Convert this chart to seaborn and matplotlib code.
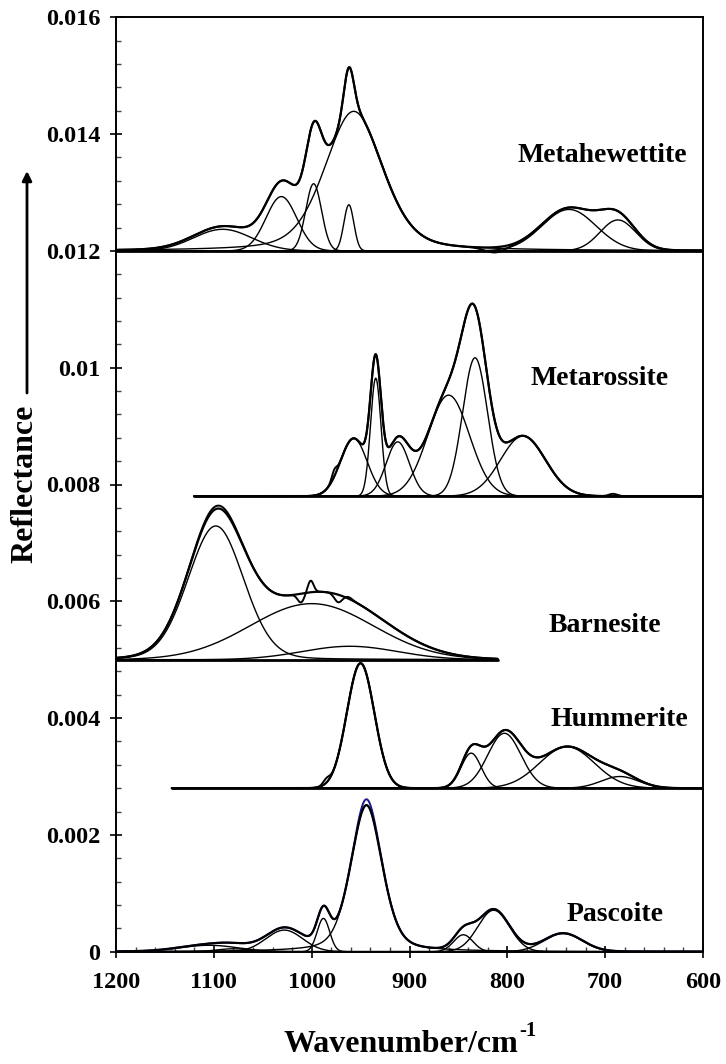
import numpy as np
import pandas as pd
import matplotlib
matplotlib.use("Agg")
import matplotlib.pyplot as plt
from matplotlib.ticker import MultipleLocator
import seaborn as sns

# ---------------- data ----------------
MINERALS = ["Metahewettite", "Metarossite", "Barnesite", "Hummerite", "Pascoite"]
OFFSETS = [0.012, 0.0078, 0.005, 0.0028, 0.0]
X_START = [1200, 1120, 1200, 1143, 1200]
X_END = [600, 600, 810, 600, 600]

# band parameters: centre (cm-1), height (x1e-3), FWHM (cm-1), Lorentz fraction
MHW_CENTER = [1091, 1031, 998, 962, 957, 737, 687]
MHW_HEIGHT = [0.37, 0.93, 1.15, 0.79, 2.39, 0.71, 0.53]
MHW_FWHM = [70, 37, 19, 12, 70, 65, 43]
MHW_ETA = [0, 0, 0, 0, 0.35, 0, 0]
MHW_RES_CENTER = [812]
MHW_RES_HEIGHT = [-0.09]
MHW_RES_FWHM = [25]

MRS_CENTER = [957, 934.5, 912, 860, 833, 784]
MRS_HEIGHT = [0.99, 2.02, 0.93, 1.73, 2.37, 1.03]
MRS_FWHM = [32, 12.6, 28, 50, 30, 54]
MRS_ETA = [0, 0, 0, 0, 0, 0]
MRS_RES_CENTER = [977, 692]
MRS_RES_HEIGHT = [0.12, 0.04]
MRS_RES_FWHM = [6, 10]

BRN_CENTER = [1098, 1000, 961]
BRN_HEIGHT = [2.29, 0.96, 0.23]
BRN_FWHM = [67, 148, 115]
BRN_ETA = [0.1, 0, 0]
BRN_RES_CENTER = [1095, 1011, 1001, 973, 962]
BRN_RES_HEIGHT = [0.05, -0.15, 0.2, -0.13, 0.03]
BRN_RES_FWHM = [40, 8, 7, 9, 8]

HUM_CENTER = [950, 837, 803, 739, 685]
HUM_HEIGHT = [2.14, 0.60, 0.94, 0.71, 0.20]
HUM_FWHM = [33, 24, 40, 66, 45]
HUM_ETA = [0, 0, 0, 0, 0]
HUM_RES_CENTER = [985]
HUM_RES_HEIGHT = [0.08]
HUM_RES_FWHM = [8]

PAS_CENTER = [1105, 1080, 1028, 988, 944, 845, 814, 743]
PAS_HEIGHT = [0.11, 0.05, 0.37, 0.57, 2.51, 0.29, 0.71, 0.31]
PAS_FWHM = [70, 40, 44, 15, 38, 23, 38, 46]
PAS_ETA = [0, 0, 0, 0, 0.35, 0, 0, 0]
PAS_RES_CENTER = [944]
PAS_RES_HEIGHT = [0.1]
PAS_RES_FWHM = [20]

X_TICKS = [1200, 1100, 1000, 900, 800, 700, 600]
X_TICK_LABELS = ["1200", "1100", "1000", "900", "800", "700", "600"]
Y_TICKS = [0, 0.002, 0.004, 0.006, 0.008, 0.01, 0.012, 0.014, 0.016]
Y_TICK_LABELS = ["0", "0.002", "0.004", "0.006", "0.008", "0.01", "0.012", "0.014", "0.016"]

BANDS = {
    "Metahewettite": (MHW_CENTER, MHW_HEIGHT, MHW_FWHM, MHW_ETA, MHW_RES_CENTER, MHW_RES_HEIGHT, MHW_RES_FWHM),
    "Metarossite": (MRS_CENTER, MRS_HEIGHT, MRS_FWHM, MRS_ETA, MRS_RES_CENTER, MRS_RES_HEIGHT, MRS_RES_FWHM),
    "Barnesite": (BRN_CENTER, BRN_HEIGHT, BRN_FWHM, BRN_ETA, BRN_RES_CENTER, BRN_RES_HEIGHT, BRN_RES_FWHM),
    "Hummerite": (HUM_CENTER, HUM_HEIGHT, HUM_FWHM, HUM_ETA, HUM_RES_CENTER, HUM_RES_HEIGHT, HUM_RES_FWHM),
    "Pascoite": (PAS_CENTER, PAS_HEIGHT, PAS_FWHM, PAS_ETA, PAS_RES_CENTER, PAS_RES_HEIGHT, PAS_RES_FWHM),
}

# label placement (layout, data coordinates)
LABEL_POS = {
    "Metahewettite": (703, 0.01364),
    "Metarossite": (706, 0.00982),
    "Barnesite": (700, 0.00558),
    "Hummerite": (685, 0.00398),
    "Pascoite": (690, 0.00063),
}


def band(x, c, h, w, eta=0.0):
    g = np.exp(-4 * np.log(2) * ((x - c) / w) ** 2)
    l = 1.0 / (1.0 + 4 * ((x - c) / w) ** 2)
    return h * 1e-3 * ((1 - eta) * g + eta * l)


# ---------------- style ----------------
sns.set_theme(style="ticks")
plt.rcParams["font.family"] = ["Liberation Serif", "DejaVu Serif"]
plt.rcParams["font.weight"] = "bold"
plt.rcParams["text.color"] = "black"
plt.rcParams["axes.labelcolor"] = "black"
plt.rcParams["xtick.color"] = "black"
plt.rcParams["ytick.color"] = "black"

W, H, DPI = 726, 1064, 100
fig = plt.figure(figsize=(W / DPI, H / DPI), dpi=DPI)
ax = fig.add_axes([116 / W, 1 - 951.7 / H, (703 - 116) / W, (951.7 - 17.3) / H])
ax.set_facecolor("white")

for name, off, xs, xe in zip(MINERALS, OFFSETS, X_START, X_END):
    cen, hei, fw, eta, rc, rh, rw = BANDS[name]
    x = np.linspace(xs, xe, 1400)
    fit = np.zeros_like(x)
    for c, h, w, e in zip(cen, hei, fw, eta):
        comp = band(x, c, h, w, e)
        fit += comp
        sns.lineplot(x=x, y=off + comp, ax=ax, color="black", linewidth=1.0,
                     estimator=None, sort=False)
    resid = np.zeros_like(x)
    for c, h, w in zip(rc, rh, rw):
        resid += band(x, c, h, w)
    exp_color = "#1a1a8c" if name == "Pascoite" else "black"
    sns.lineplot(x=x, y=off + fit + resid, ax=ax, color=exp_color, linewidth=1.4,
                 estimator=None, sort=False)
    sns.lineplot(x=x, y=off + fit, ax=ax, color="black", linewidth=1.6,
                 estimator=None, sort=False)
    sns.lineplot(x=[xs, xe], y=[off, off], ax=ax, color="black", linewidth=2.0,
                 estimator=None, sort=False)
    lx, ly = LABEL_POS[name]
    ax.text(lx, ly, name, ha="center", va="center", fontsize=20, fontweight="bold",
            color="black")

ax.set_xlim(1200, 600)
ax.set_ylim(0, 0.016)
ax.set_xticks(X_TICKS)
ax.set_xticklabels(X_TICK_LABELS)
ax.set_yticks(Y_TICKS)
ax.set_yticklabels(Y_TICK_LABELS)
ax.xaxis.set_minor_locator(MultipleLocator(20))
ax.yaxis.set_minor_locator(MultipleLocator(0.0004))
ax.tick_params(which="major", direction="inout", length=8.6, width=1.2, color="black",
               labelsize=17.5, labelcolor="black")
ax.tick_params(which="minor", direction="in", length=3.8, width=1.0, color="#444444")
ax.tick_params(axis="x", which="major", pad=10)
ax.tick_params(axis="y", which="major", pad=7)
for lab in ax.get_xticklabels() + ax.get_yticklabels():
    lab.set_fontweight("bold")
for sp in ax.spines.values():
    sp.set_color("black")
    sp.set_linewidth(1.4)
ax.set_xlabel("")
ax.set_ylabel("")

# x axis title with a hyphen superscript
main = fig.text(0, 1 - 1052 / H, "Wavenumber/cm", ha="left", va="baseline",
                fontsize=23, fontweight="bold", color="black")
sup = fig.text(0, 1 - 1065 / H, "-1", ha="left", va="baseline",
               fontsize=15, fontweight="bold", color="black")
fig.canvas.draw()
r = fig.canvas.get_renderer()
wm = main.get_window_extent(r).width
ws = sup.get_window_extent(r).width
x0 = 409 - (wm + ws) / 2
main.set_x(x0 / W)
sup.set_position(((x0 + wm + 1) / W, 1 - 1036 / H))

fig.text(25 / W, 1 - 484 / H, "Reflectance", rotation=90, ha="center", va="center",
         fontsize=23, fontweight="bold", color="black")
ax.annotate("", xy=(27 / W, 1 - 171 / H), xytext=(27 / W, 1 - 393 / H),
            xycoords="figure fraction", textcoords="figure fraction",
            arrowprops=dict(arrowstyle="-|>", color="black", lw=2.0,
                            mutation_scale=14, shrinkA=0, shrinkB=0))

fig.savefig("out.png", dpi=DPI, facecolor="white")
